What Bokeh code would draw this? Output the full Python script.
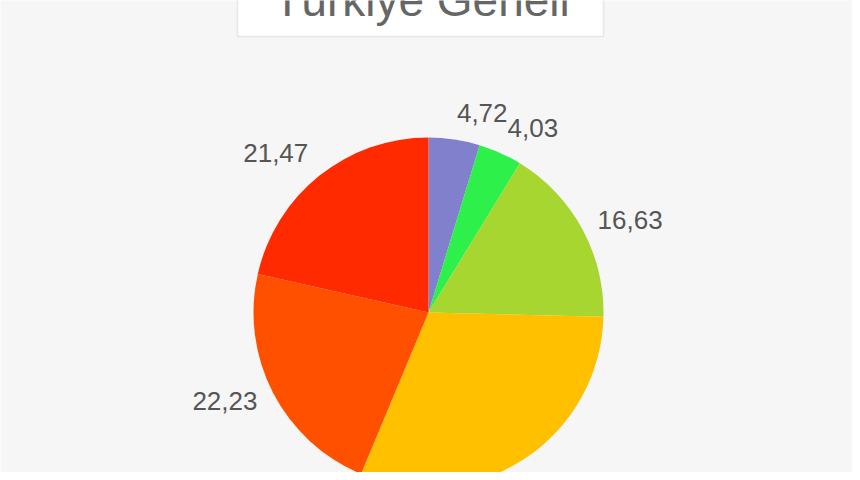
import numpy as np
from bokeh.plotting import figure
from bokeh.models import Range1d, BoxAnnotation, Label, ColumnDataSource
from bokeh.core.properties import value
from bokeh.embed import file_html
from bokeh.resources import INLINE

title_text = "Türkiye Geneli"
values = [4.72, 4.03, 16.63, 30.92, 22.23, 21.47]
labels = ["4,72", "4,03", "16,63", "30,92", "22,23", "21,47"]
colors = ["#8080cc", "#2ef04a", "#a8d630", "#ffc000", "#ff5000", "#ff2a00"]

R = 175.0
vals = np.array(values)
frac = vals / vals.sum()
cum_end = np.cumsum(frac)
cum_start = cum_end - frac
start = np.pi / 2 - 2 * np.pi * cum_start
end = np.pi / 2 - 2 * np.pi * cum_end
mid = (start + end) / 2

lr = R * 1.1
lx = lr * np.cos(mid)
ly = lr * np.sin(mid)
align = ["left" if c >= 0 else "right" for c in np.cos(mid)]
base = ["bottom" if s > 0.7 else ("top" if s < -0.7 else "middle") for s in np.sin(mid)]

src = ColumnDataSource(dict(start=start, end=end, color=colors))
lsrc = ColumnDataSource(dict(x=lx, y=ly, text=labels, align=align, base=base))

bg = "#f6f6f6"
p = figure(width=852, height=472, output_backend="svg", toolbar_location=None,
           x_range=Range1d(-428, 424), y_range=Range1d(-160, 312),
           min_border=0, outline_line_color=None)
p.axis.visible = False
p.grid.visible = False
p.background_fill_color = bg
p.border_fill_color = bg

p.wedge(x=0, y=0, radius=R, start_angle="start", end_angle="end", direction="clock",
        fill_color="color", line_color=None, source=src)

p.text(x="x", y="y", text="text", text_align="align", text_baseline="base",
       text_font=value("Liberation Sans"), text_font_size="26px",
       text_color="#555555", source=lsrc)

box = BoxAnnotation(left=-191, right=175, bottom=276, top=340,
                    fill_color="white", fill_alpha=1.0,
                    line_color="#bbbbbb", line_width=1.5, level="underlay")
p.add_layout(box)
p.add_layout(Label(x=-7, y=313, text=title_text, text_align="center",
                   text_baseline="alphabetic", text_font="Liberation Sans",
                   text_font_size="46px", text_color="#666666"))

open("out.html", "w").write(file_html(p, INLINE))
